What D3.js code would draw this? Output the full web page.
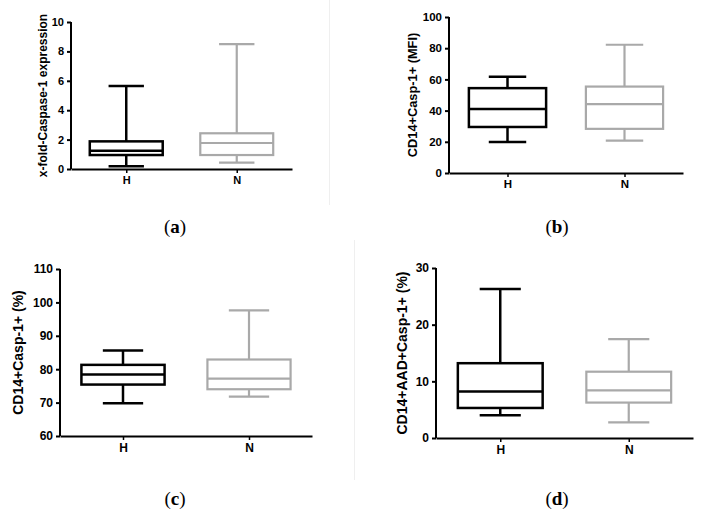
<!DOCTYPE html>
<html><head><meta charset="utf-8">
<script src="https://cdn.jsdelivr.net/npm/d3@7"></script>
<style>body{margin:0;background:#fff}svg{display:block}</style>
</head><body>
<svg id="c" width="703" height="510"></svg>
<script>
const groups = ["H", "N"];
// box stats: [min, q1, median, q3, max]
const panelA_H = [0.18, 0.95, 1.25, 1.88, 5.65];
const panelA_N = [0.43, 0.95, 1.77, 2.43, 8.5];
const panelB_H = [19.9, 29.5, 41.1, 54.4, 61.7];
const panelB_N = [20.8, 28.3, 44.1, 55.4, 82.2];
const panelC_H = [69.8, 75.4, 78.4, 81.3, 85.6];
const panelC_N = [71.8, 74.0, 77.2, 82.9, 97.6];
const panelD_H = [4.0, 5.3, 8.2, 13.2, 26.3];
const panelD_N = [2.75, 6.25, 8.4, 11.7, 17.45];
const ticksA = [0, 2, 4, 6, 8, 10];
const ticksB = [0, 20, 40, 60, 80, 100];
const ticksC = [60, 70, 80, 90, 100, 110];
const ticksD = [0, 10, 20, 30];
const labels = ["x-fold-Caspase-1 expression", "CD14+Casp-1+ (MFI)", "CD14+Casp-1+ (%)", "CD14+AAD+Casp-1+ (%)"];
const captions = ["a", "b", "c", "d"];

const colors = {H: "#000000", N: "#a9a9a9"};
const svg = d3.select("#c");

// faint divider lines
svg.append("line").attr("x1",329.5).attr("x2",329.5).attr("y1",0).attr("y2",205).attr("stroke","#efefef").attr("stroke-width",1);
svg.append("line").attr("x1",354.5).attr("x2",354.5).attr("y1",240).attr("y2",480).attr("stroke","#efefef").attr("stroke-width",1);

const panels = [
  {data:[panelA_H,panelA_N], ticks:ticksA, label:labels[0], cap:captions[0], x0:71, x1:292, yTop:22, yBot:169, labX:43, capX:175, capY:233, fs:11, lfs:12},
  {data:[panelB_H,panelB_N], ticks:ticksB, label:labels[1], cap:captions[1], x0:449, x1:683, yTop:17, yBot:173, labX:413, capX:557, capY:233, fs:11.5, lfs:12.8},
  {data:[panelC_H,panelC_N], ticks:ticksC, label:labels[2], cap:captions[2], x0:60, x1:312, yTop:269, yBot:436, labX:18, capX:175, capY:505, fs:12, lfs:14},
  {data:[panelD_H,panelD_N], ticks:ticksD, label:labels[3], cap:captions[3], x0:436, x1:693, yTop:268, yBot:438, labX:402, capX:557, capY:505, fs:12, lfs:14}
];

panels.forEach(p => {
  const g = svg.append("g");
  const y = d3.scaleLinear().domain([p.ticks[0], p.ticks[p.ticks.length-1]]).range([p.yBot, p.yTop]);
  const x = d3.scalePoint().domain(groups).range([p.x0, p.x1]).padding(0.5);
  const step = x.step();
  const bw = step*0.66, cw = step*0.32;

  // y axis
  const ya = g.append("g").attr("transform",`translate(${p.x0},0)`)
    .call(d3.axisLeft(y).tickValues(p.ticks).tickSize(4).tickPadding(3).tickSizeOuter(0));
  ya.select(".domain").attr("stroke-width",2).attr("d",`M-0,${p.yBot}V${p.yTop}`);
  ya.selectAll(".tick line").attr("stroke-width",2);
  ya.selectAll("text").attr("font-family","Liberation Sans, Arial, sans-serif").attr("font-weight","bold").attr("font-size",p.fs+"px").attr("fill","#000");

  // x axis
  const xa = g.append("g").attr("transform",`translate(0,${p.yBot})`)
    .call(d3.axisBottom(x).tickSize(4).tickPadding(3).tickSizeOuter(0));
  xa.select(".domain").attr("stroke-width",2);
  xa.selectAll(".tick line").attr("stroke-width",1.5);
  xa.selectAll("text").attr("font-family","Liberation Sans, Arial, sans-serif").attr("font-weight","bold").attr("font-size",p.fs+"px").attr("fill","#000");

  // boxes
  groups.forEach((k,i) => {
    const d = p.data[i];
    const cx = x(k);
    const col = colors[k];
    const sw = k==="H" ? 2.5 : 2.2;
    const b = g.append("g").attr("stroke",col).attr("stroke-width",sw).attr("fill","none");
    b.append("line").attr("x1",cx).attr("x2",cx).attr("y1",y(d[0])).attr("y2",y(d[1]));
    b.append("line").attr("x1",cx).attr("x2",cx).attr("y1",y(d[3])).attr("y2",y(d[4]));
    b.append("line").attr("x1",cx-cw/2).attr("x2",cx+cw/2).attr("y1",y(d[0])).attr("y2",y(d[0]));
    b.append("line").attr("x1",cx-cw/2).attr("x2",cx+cw/2).attr("y1",y(d[4])).attr("y2",y(d[4]));
    b.append("rect").attr("x",cx-bw/2).attr("width",bw).attr("y",y(d[3])).attr("height",y(d[1])-y(d[3]));
    b.append("line").attr("x1",cx-bw/2).attr("x2",cx+bw/2).attr("y1",y(d[2])).attr("y2",y(d[2]));
  });

  // y label
  g.append("text").attr("transform",`translate(${p.labX},${(p.yTop+p.yBot)/2}) rotate(-90)`)
    .attr("text-anchor","middle").attr("dy","0.35em")
    .attr("font-family","Liberation Sans, Arial, sans-serif").attr("font-weight","bold").attr("font-size",p.lfs+"px")
    .text(p.label);

  // caption
  const t = svg.append("text").attr("x",p.capX).attr("y",p.capY).attr("text-anchor","middle")
    .attr("font-family","Liberation Serif, DejaVu Serif, serif").attr("font-size","19px").attr("fill","#000");
  t.append("tspan").text("(");
  t.append("tspan").attr("font-weight","bold").text(p.cap);
  t.append("tspan").text(")");
});
</script>
</body></html>
